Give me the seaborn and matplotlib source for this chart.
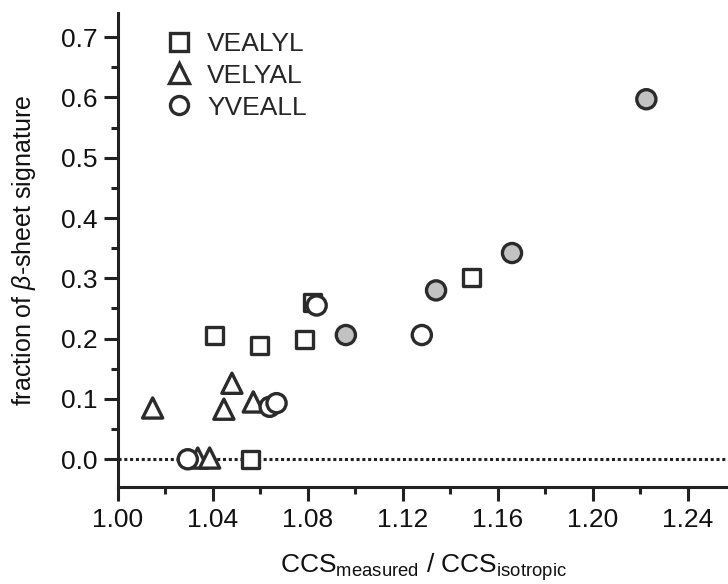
import matplotlib
matplotlib.use("Agg")
import matplotlib.pyplot as plt
import seaborn as sns
import pandas as pd
import numpy as np
from matplotlib.lines import Line2D
from matplotlib.ticker import MultipleLocator

# ---- data ----
vealyl_x = [1.0407, 1.0597, 1.0786, 1.0820, 1.0559, 1.1490]
vealyl_y = [0.206, 0.189, 0.199, 0.260, 0.000, 0.302]

velyal_x = [1.0146, 1.0446, 1.0480, 1.0570, 1.0336, 1.0386]
velyal_y = [0.085, 0.083, 0.126, 0.095, 0.002, 0.002]

yveall_open_x = [1.0294, 1.0639, 1.0668, 1.0837, 1.1280]
yveall_open_y = [0.000, 0.087, 0.093, 0.255, 0.206]

yveall_fill_x = [1.0960, 1.1340, 1.1660, 1.2226]
yveall_fill_y = [0.206, 0.280, 0.342, 0.597]

peptides = ["VEALYL", "VELYAL", "YVEALL"]

sns.set_theme(style="ticks")
plt.rcParams['font.family'] = ['Liberation Sans', 'DejaVu Sans']
plt.rcParams['mathtext.fontset'] = 'custom'
plt.rcParams['mathtext.rm'] = 'Liberation Sans'
plt.rcParams['mathtext.it'] = 'Liberation Sans:italic'

rows = []
for x, y in zip(vealyl_x, vealyl_y):
    rows.append((x, y, "VEALYL", "open"))
for x, y in zip(velyal_x, velyal_y):
    rows.append((x, y, "VELYAL", "open"))
for x, y in zip(yveall_open_x, yveall_open_y):
    rows.append((x, y, "YVEALL", "open"))
for x, y in zip(yveall_fill_x, yveall_fill_y):
    rows.append((x, y, "YVEALL", "filled"))
df = pd.DataFrame(rows, columns=["ratio", "frac", "peptide", "fill"])

edge = "#2b2b2b"
markers = {"VEALYL": "s", "VELYAL": "^", "YVEALL": "o"}
sizes = {"VEALYL": 150, "VELYAL": 210, "YVEALL": 190}

fig = plt.figure(figsize=(7.28, 5.84), dpi=100)
ax = fig.add_axes([118/728, (584-487)/584, (728-118)/728, (487-13)/584])

ax.axhline(0, color="#222222", linestyle=(0, (1.0, 0.9)), linewidth=2.2, zorder=1)

for pep in peptides:
    sub = df[df.peptide == pep]
    sns.scatterplot(data=sub, x="ratio", y="frac", hue="fill",
                    palette={"open": "white", "filled": "#c2c2c2"},
                    marker=markers[pep], s=sizes[pep], edgecolor=edge,
                    linewidth=2.4, legend=False, ax=ax, zorder=3)

ax.set_xlim(1.0, 1.257)
ax.set_ylim(-0.046, 0.74)
ax.xaxis.set_major_locator(MultipleLocator(0.04))
ax.xaxis.set_minor_locator(MultipleLocator(0.02))
ax.yaxis.set_major_locator(MultipleLocator(0.1))
ax.yaxis.set_minor_locator(MultipleLocator(0.05))
ax.xaxis.set_major_formatter(matplotlib.ticker.FormatStrFormatter('%.2f'))
ax.yaxis.set_major_formatter(matplotlib.ticker.FormatStrFormatter('%.1f'))

sns.despine(ax=ax)
for sp in ["left", "bottom"]:
    ax.spines[sp].set_linewidth(2.2)
    ax.spines[sp].set_color("#222222")
ax.tick_params(which="major", direction="out", length=10, width=2.2,
               color="#222222", labelsize=19, pad=5, labelcolor="#111111")
ax.tick_params(which="minor", direction="out", length=5, width=2.2,
               color="#222222")

ax.set_xlabel(r"CCS$_{\mathregular{measured}}$ / CCS$_{\mathregular{isotropic}}$",
              fontsize=19, labelpad=14, color="#111111")
ax.set_ylabel(r"fraction of $\it{\beta}$-sheet signature", fontsize=18,
              labelpad=16, color="#111111")

handles = [Line2D([], [], linestyle="none", marker=markers[p],
                  markersize=13 if p != "VELYAL" else 15,
                  markerfacecolor="white", markeredgecolor=edge,
                  markeredgewidth=2.4) for p in peptides]
ax.legend(handles, peptides, loc="upper left", bbox_to_anchor=(0.04, 1.005),
          frameon=False, fontsize=19, handletextpad=0.45, labelspacing=0.3,
          handlelength=1.2, borderaxespad=0.4)

fig.savefig("out.png", dpi=100)
